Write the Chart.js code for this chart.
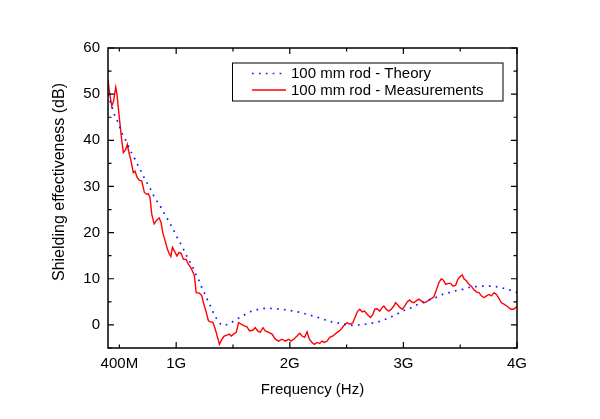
<!DOCTYPE html>
<html>
<head>
<meta charset="utf-8">
<script src="https://cdn.jsdelivr.net/npm/chart.js@4.4.1/dist/chart.umd.min.js"></script>
<style>
  html, body { margin: 0; padding: 0; background: #fff; }
</style>
</head>
<body>
<canvas id="se-chart" width="600" height="419"></canvas>
<script>
// frequencies in GHz, shielding effectiveness in dB
const theoryFreq = [0.400,0.418,0.438,0.456,0.482,0.526,0.556,0.609,0.638,0.667,0.697,0.726,0.755,0.785,0.814,0.852,0.882,0.914,0.947,0.976,1.006,1.035,1.064,1.094,1.123,1.152,1.176,1.205,1.229,1.255,1.279,1.306,1.329,1.364,1.411,1.470,1.529,1.582,1.637,1.696,1.755,1.814,1.866,1.926,1.976,2.034,2.093,2.152,2.210,2.263,2.322,2.381,2.434,2.493,2.549,2.607,2.666,2.725,2.778,2.828,2.881,2.940,2.990,3.048,3.116,3.166,3.224,3.284,3.343,3.401,3.460,3.519,3.577,3.636,3.695,3.754,3.813,3.857,3.916,3.960,4.000];
const theorySE = [50.0,48.5,47.0,45.6,44.2,41.4,40.0,37.2,35.9,34.4,33.0,31.5,30.3,28.9,27.4,26.1,24.7,23.4,21.9,20.6,19.1,17.8,16.4,14.9,13.6,12.2,10.8,9.4,7.9,6.6,5.2,3.9,2.5,1.1,-0.1,0.3,1.2,1.9,2.7,3.2,3.5,3.6,3.5,3.4,3.2,3.0,2.7,2.3,1.9,1.5,1.0,0.6,0.4,0.1,-0.1,0.0,0.15,0.4,0.65,1.1,1.6,2.3,3.0,3.5,4.3,4.8,5.4,5.9,6.6,7.0,7.4,7.7,8.1,8.3,8.4,8.4,8.3,8.1,7.7,7.4,7.0];

const measFreq = [0.400,0.413,0.433,0.449,0.468,0.479,0.491,0.515,0.535,0.556,0.570,0.585,0.603,0.623,0.638,0.658,0.676,0.697,0.720,0.741,0.755,0.770,0.785,0.806,0.829,0.850,0.867,0.882,0.903,0.923,0.941,0.953,0.967,0.985,1.006,1.026,1.044,1.064,1.088,1.108,1.129,1.143,1.161,1.176,1.205,1.226,1.240,1.262,1.284,1.306,1.323,1.344,1.364,1.381,1.403,1.423,1.447,1.467,1.485,1.505,1.529,1.549,1.573,1.599,1.623,1.646,1.676,1.696,1.717,1.740,1.764,1.784,1.814,1.844,1.873,1.902,1.932,1.961,1.990,2.011,2.034,2.064,2.087,2.108,2.131,2.152,2.172,2.196,2.217,2.240,2.263,2.284,2.305,2.329,2.351,2.381,2.417,2.446,2.475,2.505,2.528,2.554,2.578,2.598,2.616,2.637,2.657,2.681,2.710,2.731,2.748,2.769,2.792,2.814,2.828,2.849,2.872,2.893,2.916,2.931,2.951,2.969,2.990,3.010,3.034,3.054,3.072,3.092,3.113,3.136,3.157,3.180,3.204,3.224,3.246,3.269,3.292,3.313,3.334,3.352,3.372,3.392,3.416,3.436,3.460,3.480,3.504,3.519,3.533,3.557,3.577,3.598,3.621,3.645,3.665,3.687,3.709,3.731,3.754,3.775,3.798,3.819,3.842,3.863,3.885,3.916,3.945,3.969,3.989,4.000];
const measSE = [53.0,50.5,47.4,48.5,51.5,50.0,47.0,41.3,37.3,38.0,39.1,37.3,35.5,33.0,33.3,31.9,31.3,31.2,28.7,28.3,28.4,27.6,24.0,21.9,22.7,23.2,22.2,20.0,18.2,16.4,15.3,14.8,16.8,16.0,14.9,15.7,15.5,14.2,14.2,13.1,12.4,11.7,10.6,7.0,6.9,6.3,4.8,3.0,0.9,0.6,0.6,-0.9,-2.7,-4.2,-3.1,-2.4,-2.2,-2.0,-2.4,-2.0,-1.6,0.5,0.15,-0.2,-0.4,-1.3,-1.1,-0.6,-1.3,-1.6,-0.6,-1.3,-1.6,-2.0,-3.1,-3.5,-3.1,-3.5,-3.1,-3.5,-3.1,-2.4,-1.8,-2.4,-2.7,-1.5,-3.1,-3.8,-4.2,-3.8,-4.0,-3.5,-3.8,-3.5,-2.7,-2.4,-1.6,-1.1,-0.2,0.5,0.15,0.4,1.9,3.0,3.4,2.8,3.0,2.3,1.6,2.3,3.4,3.5,3.0,3.8,4.1,3.4,3.0,3.4,4.1,4.8,4.3,3.8,3.4,4.0,5.0,5.4,5.0,4.8,5.2,5.6,5.2,4.8,5.0,5.4,5.7,6.1,7.7,9.2,10.0,9.7,8.8,9.0,9.0,8.4,8.6,9.9,10.6,10.8,10.0,9.5,8.8,8.4,7.6,7.1,7.0,6.3,5.9,6.3,6.6,6.3,7.0,6.6,5.7,4.8,4.5,4.0,3.4,3.4,3.8,3.9];

const xTickValues = [0.5, 1, 1.5, 2, 2.5, 3, 3.5, 4];
const xTickLabels = ['400M', '1G', '', '2G', '', '3G', '', '4G'];
const yTickValues = [-5, 0, 5, 10, 15, 20, 25, 30, 35, 40, 45, 50, 55, 60];
const yTickLabels = ['', '0', '', '10', '', '20', '', '30', '', '40', '', '50', '', '60'];

const FONT = '"Liberation Sans", Arial, sans-serif';

function pts(xs, ys) {
    return xs.map((f, i) => ({ x: f, y: ys[i] }));
}

// frame, inward ticks, axis titles and the boxed legend
const decorations = {
    id: 'decorations',
    afterDatasetsDraw(chart) {
        const { ctx, chartArea: a, scales: { x, y } } = chart;
        ctx.save();
        ctx.strokeStyle = '#000';
        ctx.lineWidth = 1.2;
        ctx.beginPath();
        xTickValues.forEach(v => {
            const px = x.getPixelForValue(v);
            const len = Number.isInteger(v) ? 6 : 3.5;
            ctx.moveTo(px, a.bottom); ctx.lineTo(px, a.bottom - len);
            ctx.moveTo(px, a.top); ctx.lineTo(px, a.top + len);
        });
        yTickValues.forEach(v => {
            const py = y.getPixelForValue(v);
            const len = v % 10 === 0 ? 6 : 3.5;
            ctx.moveTo(a.left, py); ctx.lineTo(a.left + len, py);
            ctx.moveTo(a.right, py); ctx.lineTo(a.right - len, py);
        });
        ctx.stroke();
        ctx.lineWidth = 1.5;
        ctx.strokeRect(a.left, a.top, a.right - a.left, a.bottom - a.top);

        // axis titles
        ctx.fillStyle = '#000';
        ctx.font = '15px ' + FONT;
        ctx.textAlign = 'center';
        ctx.textBaseline = 'alphabetic';
        ctx.fillText('Frequency (Hz)', (a.left + a.right) / 2, 393.5);
        ctx.save();
        ctx.font = '16px ' + FONT;
        ctx.translate(64, 182);
        ctx.rotate(-Math.PI / 2);
        ctx.fillText('Shielding effectiveness (dB)', 0, 0);
        ctx.restore();

        // legend
        const lx = 232, ly = 62.5, lw = 270.5, lh = 38;
        ctx.fillStyle = '#fff';
        ctx.fillRect(lx, ly, lw, lh);
        ctx.lineWidth = 1;
        ctx.strokeStyle = '#000';
        ctx.strokeRect(lx + 0.5, ly + 0.5, lw, lh);
        const rows = [73.5, 90];
        chart.data.datasets.forEach((ds, i) => {
            const ry = rows[i];
            ctx.beginPath();
            ctx.strokeStyle = ds.borderColor;
            ctx.lineWidth = ds.borderWidth;
            ctx.setLineDash(ds.borderDash || []);
            ctx.moveTo(252, ry);
            ctx.lineTo(286, ry);
            ctx.stroke();
            ctx.setLineDash([]);
            ctx.fillStyle = '#000';
            ctx.textAlign = 'left';
            ctx.fillText(ds.label, 291, ry + 4.8);
        });
        ctx.restore();
    }
};

new Chart(document.getElementById('se-chart'), {
    type: 'line',
    data: {
        datasets: [{
            label: '100 mm rod - Theory',
            data: pts(theoryFreq, theorySE),
            borderColor: '#1a1aff',
            borderWidth: 1.7,
            borderDash: [1.7, 5.2],
            cubicInterpolationMode: 'monotone',
            pointRadius: 0,
            fill: false
        },
        {
            label: '100 mm rod - Measurements',
            data: pts(measFreq, measSE),
            borderColor: '#ff0000',
            borderWidth: 1.4,
            tension: 0,
            pointRadius: 0,
            fill: false
        }]
    },
    options: {
        responsive: false,
        devicePixelRatio: 1,
        animation: false,
        layout: { padding: { top: 48, right: 83, left: 0, bottom: 0 } },
        plugins: {
            legend: { display: false },
            tooltip: { enabled: false }
        },
        scales: {
            x: {
                type: 'linear',
                min: 0.4,
                max: 4.0,
                grid: { display: false, drawTicks: false },
                border: { display: false },
                afterBuildTicks: s => { s.ticks = xTickValues.map(v => ({ value: v })); },
                afterFit: s => { s.height = 71; },
                ticks: {
                    autoSkip: false,
                    maxRotation: 0,
                    padding: 7,
                    color: '#000',
                    font: { family: FONT, size: 15 },
                    callback: v => xTickLabels[xTickValues.indexOf(v)] ?? ''
                }
            },
            y: {
                min: -5,
                max: 60,
                grid: { display: false, drawTicks: false },
                border: { display: false },
                afterBuildTicks: s => { s.ticks = yTickValues.map(v => ({ value: v })); },
                afterFit: s => { s.width = 108; },
                ticks: {
                    autoSkip: false,
                    padding: 8,
                    color: '#000',
                    font: { family: FONT, size: 15 },
                    callback: v => yTickLabels[yTickValues.indexOf(v)] ?? ''
                }
            }
        }
    },
    plugins: [decorations]
});
</script>
</body>
</html>
